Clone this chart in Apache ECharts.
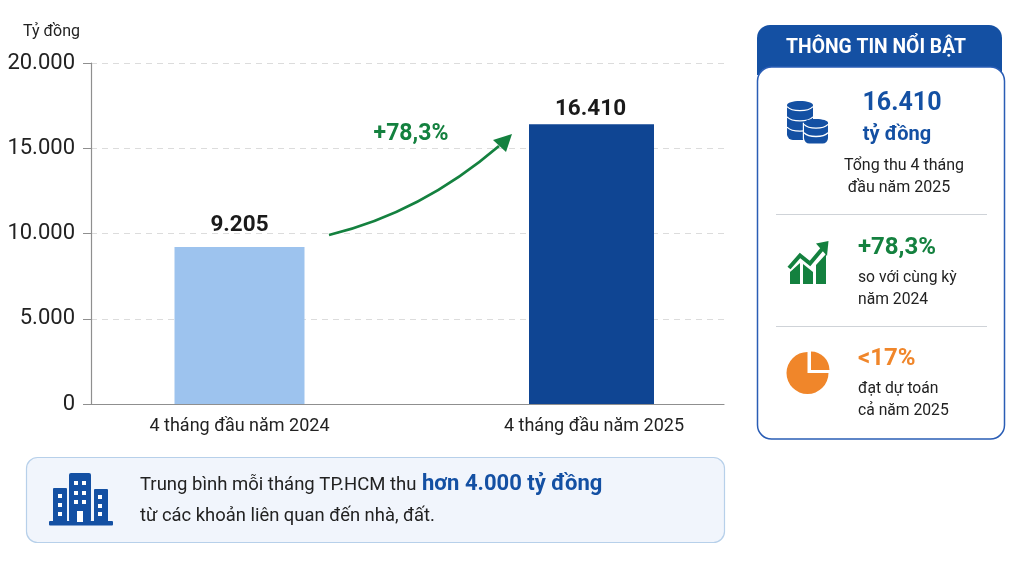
<!DOCTYPE html>
<html><head><meta charset="utf-8">
<style>html,body{margin:0;padding:0;background:#fff}#c{width:1036px;height:582px}</style>
<script src="https://cdn.jsdelivr.net/npm/echarts@6/dist/echarts.min.js"></script>
</head><body><div id="c"></div>
<script>
const categories = ['4 tháng đầu năm 2024', '4 tháng đầu năm 2025'];
const values2024 = [9205, null];
const values2025 = [null, 16410];
const yTicks = [0, 5000, 10000, 15000, 20000];
const unitLabel = 'Tỷ đồng';
const growthLabel = '+78,3%';
const panelTitle = 'THÔNG TIN NỔI BẬT';

const FONT = 'Roboto';
const NARROW = '"Liberation Sans Narrow", Roboto';
const BLUE = '#1450a3', GREEN = '#14813f', ORANGE = '#f0862a', DARK = '#222';
const fmt = v => String(v).replace(/\B(?=(\d{3})+$)/g, '.');

function txt(x, y, text, size, color, weight, align) {
  return {type:'text', x, y:y+2, z:20, style:{text, font:(weight||400)+' '+size+'px '+FONT, fill:color||DARK, textAlign:align||'left', textVerticalAlign:'middle'}};
}
function rect(x, y, w, h, fill, r) {
  return {type:'rect', z:15, shape:{x,y,width:w,height:h,r:r||0}, style:{fill}};
}
function coin(cx, top, bottom, rx, n, z) {
  const ry = rx*0.32, out = [];
  out.push({type:'rect', z, shape:{x:cx-rx-1.2, y:top+ry, width:2*rx+2.4, height:bottom-top-ry+1, r:[0,0,rx*0.5,rx*0.5]}, style:{fill:'#fff'}});
  out.push({type:'rect', z, shape:{x:cx-rx, y:top+ry, width:2*rx, height:bottom-top-ry, r:[0,0,rx*0.45,rx*0.45]}, style:{fill:BLUE}});
  out.push({type:'ellipse', z, shape:{cx, cy:top+ry, rx, ry}, style:{fill:BLUE}});
  const step = (bottom-top-2*ry)/n;
  for (let i = 0; i < n; i++) {
    const y = top + ry + 1.5 + i*step;
    out.push({type:'bezierCurve', z, shape:{x1:cx-rx,y1:y,cpx1:cx-rx*0.6,cpy1:y+ry*1.3,cpx2:cx+rx*0.6,cpy2:y+ry*1.3,x2:cx+rx,y2:y}, style:{stroke:'#fff',lineWidth:1.3,fill:null}});
  }
  return out;
}
const W = '#fff';
const linePts = [[789,268],[800,255.5],[810,263.5],[823,248]];
const graphics = [
  // right panel
  {type:'rect', z:5, shape:{x:757,y:25,width:245,height:50,r:[13,13,0,0]}, style:{fill:BLUE}},
  {type:'rect', z:6, shape:{x:757.5,y:67,width:247,height:372,r:14}, style:{fill:'#fff',stroke:'#2a5db5',lineWidth:1.5}},
  txt(876, 46, panelTitle, 19.3, '#fff', 700, 'center'),
  txt(902, 102, '16.410', 25, BLUE, 700, 'center'),
  txt(897, 133, 'tỷ đồng', 20, BLUE, 700, 'center'),
  txt(904, 164, 'Tổng thu 4 tháng', 16, DARK, 400, 'center'),
  txt(899, 186, 'đầu năm 2025', 16, DARK, 400, 'center'),
  rect(776, 214, 211, 1, '#cfd3d8'),
  txt(858, 246, growthLabel, 24, GREEN, 700),
  txt(858, 276, 'so với cùng kỳ', 15.7),
  txt(858, 298, 'năm 2024', 15.7),
  rect(776, 326, 211, 1, '#cfd3d8'),
  txt(858, 357, '<17%', 24, ORANGE, 700),
  txt(858, 387, 'đạt dự toán', 15.7),
  txt(858, 409, 'cả năm 2025', 15.7),
  // coins icon
  ...coin(800, 101, 140, 13, 3, 15),
  ...coin(816, 119, 143.5, 12, 2, 16),
  // growth icon
  {type:'polygon', z:15, shape:{points:[[790,284],[790,272],[800,263],[800,284]]}, style:{fill:GREEN}},
  {type:'polygon', z:15, shape:{points:[[803,284],[803,264],[813,272],[813,284]]}, style:{fill:GREEN}},
  {type:'polygon', z:15, shape:{points:[[816,284],[816,265],[826,254],[826,284]]}, style:{fill:GREEN}},
  {type:'polyline', z:16, shape:{points:linePts}, style:{stroke:'#fff',lineWidth:7,fill:null}},
  {type:'polyline', z:17, shape:{points:linePts}, style:{stroke:GREEN,lineWidth:4,fill:null}},
  {type:'polygon', z:17, shape:{points:[[828.5,241],[816,243.5],[827,256]]}, style:{fill:GREEN}},
  // pie icon
  {type:'sector', z:15, shape:{cx:807.5,cy:373,r:21,r0:0,startAngle:0,endAngle:-Math.PI/2,clockwise:true}, style:{fill:ORANGE}},
  {type:'sector', z:15, shape:{cx:811,cy:370,r:18.5,r0:0,startAngle:-Math.PI/2,endAngle:0,clockwise:true}, style:{fill:ORANGE}},
  // bottom callout
  {type:'rect', z:5, shape:{x:26.5,y:457.5,width:698,height:85,r:11}, style:{fill:'#f1f5fc',stroke:'#b7d0ea',lineWidth:1.2}},
  txt(140, 483, 'Trung bình mỗi tháng TP.HCM thu', 18.5),
  txt(422, 482, 'hơn 4.000 tỷ đồng', 22, BLUE, 700),
  txt(140, 514, 'từ các khoản liên quan đến nhà, đất.', 18.4),
  // building icon
  rect(49, 521, 64, 4.5, BLUE, 1),
  rect(69, 473, 22, 49, BLUE, 2), rect(53, 488, 14, 34, BLUE, 1), rect(94, 489, 14, 33, BLUE, 1),
  ...[[74,481],[82,481],[74,491],[82,491],[74,500],[82,500],[58,494],[58,503],[58,512],[98,495],[98,504],[98,512]].map(p => rect(p[0], p[1], 4, 4, W)),
  rect(77, 511, 6, 11, W),
  // unit
  txt(23, 30, unitLabel, 16),
  // growth arrow
  txt(411, 132, growthLabel, 23, GREEN, 700, 'center'),
  {type:'bezierCurve', z:18, shape:{x1:329,y1:235,cpx1:395,cpy1:219,cpx2:450,cpy2:188,x2:499,y2:146}, style:{stroke:GREEN,lineWidth:2.8,fill:null}},
  {type:'polygon', z:18, shape:{points:[[512,134],[493,140],[506,152]]}, style:{fill:GREEN}}
];

const barLabel = off => ({show:true, position:'top', distance:7, offset:off, color:'#1a1a1a', fontFamily:NARROW, fontWeight:700, fontSize:22.5, formatter:p => fmt(p.value)});
const option = {
  animation:false,
  backgroundColor:'#ffffff',
  textStyle:{fontFamily:FONT},
  grid:[
    {left:91, right:312, top:63, bottom:178},
    {left:62.25, width:709, top:63, bottom:178}
  ],
  xAxis:[
    {gridIndex:0, type:'value', min:0, max:1, axisLine:{show:true,onZero:false,lineStyle:{color:'#8f8f8f',width:1.2}}, axisTick:{show:false}, axisLabel:{show:false}, splitLine:{show:false}},
    {gridIndex:1, type:'category', data:categories, axisLine:{show:false}, axisTick:{show:false},
     axisLabel:{color:'#222', fontFamily:FONT, fontSize:18, margin:13}}
  ],
  yAxis:[
    {gridIndex:0, type:'value', min:yTicks[0], max:yTicks[yTicks.length-1], interval:yTicks[1]-yTicks[0],
     axisLine:{show:true,lineStyle:{color:'#8f8f8f',width:1.2}}, axisTick:{show:true,length:8,lineStyle:{color:'#8f8f8f'}},
     axisLabel:{color:'#222', fontFamily:NARROW, fontSize:22, margin:16, formatter:v => fmt(v)},
     splitLine:{show:true,lineStyle:{color:'#dcdcdc',type:[6,5],width:1}}},
    {gridIndex:1, type:'value', min:yTicks[0], max:yTicks[yTicks.length-1], show:false, splitLine:{show:false}}
  ],
  series:[
    {type:'bar', xAxisIndex:1, yAxisIndex:1, data:values2025, barWidth:125, barGap:'-100%', itemStyle:{color:'#0f4593'}, label:barLabel([-1,4])},
    {type:'bar', xAxisIndex:1, yAxisIndex:1, data:values2024, barWidth:130, barGap:'-100%', itemStyle:{color:'#9dc3ee'}, label:barLabel([0,-3])}
  ],
  graphic:graphics
};
const chart = echarts.init(document.getElementById('c'), null, {renderer:'canvas'});
chart.setOption(option);
</script></body></html>
